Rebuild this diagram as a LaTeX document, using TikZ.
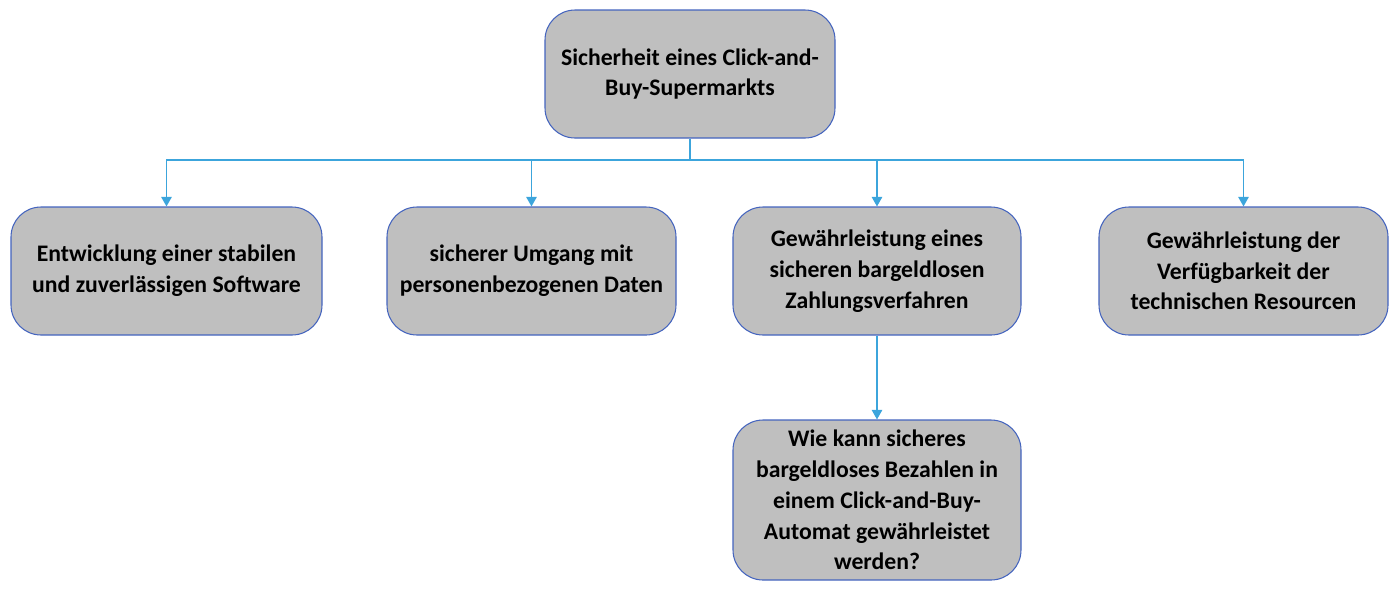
\documentclass[tikz,border=0pt]{standalone}
\usepackage{fontspec}
\setmainfont{Carlito}
\usepackage{tikz}
\usetikzlibrary{arrows.meta}
\pgfdeclarelayer{edgelayer}
\pgfdeclarelayer{nodelayer}
\pgfsetlayers{edgelayer,nodelayer,main}
\definecolor{boxgray}{RGB}{191,191,191}
\definecolor{boxline}{RGB}{68,100,190}
\definecolor{linkblue}{RGB}{60,165,220}
\tikzstyle{edge}=[draw=linkblue, line width=0.8pt, -{Triangle[width=6pt,length=5.5pt]}]
\tikzstyle{vertex}=[rectangle, rounded corners=0.6cm, fill=boxgray, draw=boxline, line width=0.6pt, align=center, font=\fontsize{13.5}{17.5}\selectfont\bfseries, minimum height=2.56cm, inner sep=0pt]

\begin{document}
\begin{tikzpicture}
				\useasboundingbox (0, 0) rectangle (27.96, -11.88);
				\begin{pgfonlayer}{nodelayer}
					\node [style=vertex, minimum width=5.8cm] (0) at (13.8, -1.48) {Sicherheit eines Click-and-\\Buy-Supermarkts};
					\node [style=vertex, minimum width=6.22cm] (1) at (3.33, -5.42) {Entwicklung einer stabilen\\und zuverlässigen Software};
					\node [style=vertex, minimum width=5.78cm] (2) at (10.63, -5.42) {sicherer Umgang mit\\personenbezogenen Daten};
					\node [style=vertex, minimum width=5.76cm] (3) at (17.54, -5.42) {Gewährleistung eines\\sicheren bargeldlosen\\Zahlungsverfahren};
					\node [style=vertex, minimum width=5.78cm] (4) at (24.87, -5.42) {Gewährleistung der\\Verfügbarkeit der\\technischen Resourcen};
					\node [style=vertex, minimum width=5.76cm, minimum height=3.2cm] (5) at (17.54, -10.0) {Wie kann sicheres\\bargeldloses Bezahlen in\\einem Click-and-Buy-\\Automat gewährleistet\\werden?};
				\end{pgfonlayer}
				\coordinate (h) at (13.8, -3.2);
				\begin{pgfonlayer}{edgelayer}
					\draw [style=edge] (0.south) -- (h) -| (1.north);
					\draw [style=edge] (h) -| (2.north);
					\draw [style=edge] (h) -| (3.north);
					\draw [style=edge] (h) -| (4.north);
					\draw [style=edge] (3.south) to (5.north);
				\end{pgfonlayer}
			\end{tikzpicture}
\end{document}
